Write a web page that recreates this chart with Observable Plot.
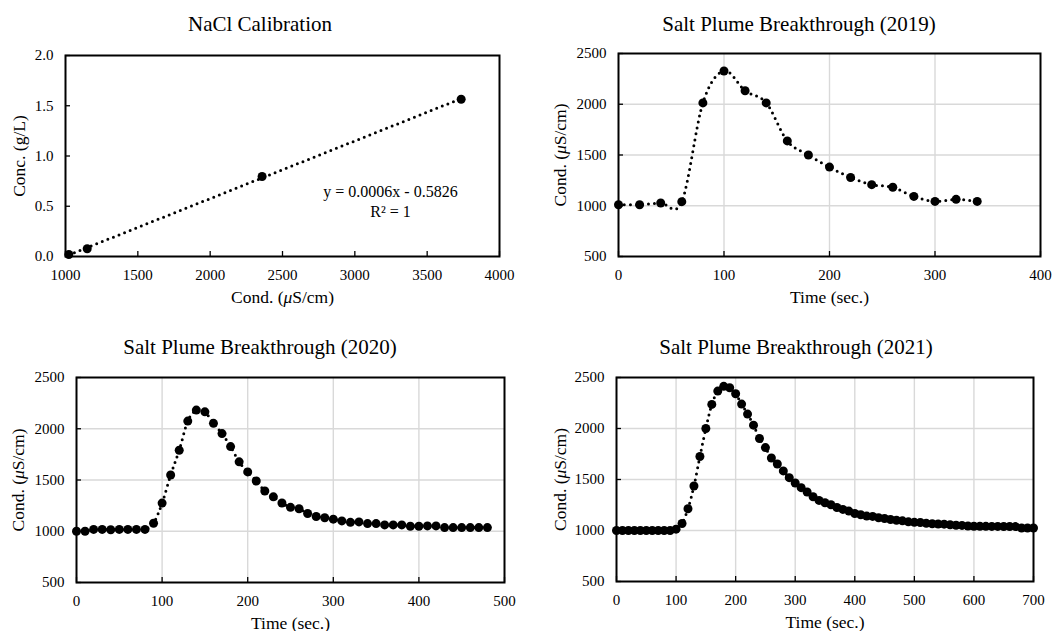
<!DOCTYPE html>
<html>
<head>
<meta charset="utf-8">
<script src="https://cdn.jsdelivr.net/npm/d3@7"></script>
<script src="https://cdn.jsdelivr.net/npm/@observablehq/plot@0.6"></script>
<style>
  body { margin: 0; background: #fff; font-family: "Liberation Serif", "Times New Roman", serif; }
  #wrap { position: relative; width: 1058px; height: 631px; overflow: hidden; background: #fff; }
  .cell { position: absolute; }
  .cell svg { overflow: visible; }
  .title { position: absolute; font-family: "Liberation Serif", "Times New Roman", serif; font-weight: normal; font-size: 21px; line-height: 1; transform: translateX(-50%); white-space: nowrap; color: #000; }
  [aria-label="x-axis label"], [aria-label="y-axis label"] { font-size: 17.5px; }
</style>
</head>
<body>
<div id="wrap"></div>
<script>
// ---------- data ----------
// NaCl calibration
const calCond = [1023, 1150, 2359, 3735];
const calConc = [0.02, 0.077, 0.796, 1.565];
const calEquation = "y = 0.0006x - 0.5826\nR² = 1";

// 2019 breakthrough
const t2019 = [0, 20, 40, 60, 80, 100, 120, 140, 160, 180, 200, 220, 240, 260, 280, 300, 320, 340];
const c2019 = [1010, 1010, 1027, 1040, 2013, 2328, 2133, 2013, 1639, 1500, 1381, 1278, 1208, 1182, 1092, 1043, 1063, 1043];

// 2020 breakthrough
const t2020 = [0, 10, 20, 30, 40, 50, 60, 70, 80, 90, 100, 110, 120, 130, 140, 150, 160, 170, 180, 190, 200,
  210, 220, 230, 240, 250, 260, 270, 280, 290, 300, 310, 320, 330, 340, 350, 360, 370, 380, 390, 400,
  410, 420, 430, 440, 450, 460, 470, 480];
const c2020 = [1000, 1000, 1018, 1018, 1015, 1018, 1018, 1018, 1018, 1078, 1275, 1549, 1790, 2075, 2182, 2165, 2053, 1953, 1826, 1677, 1579,
  1490, 1393, 1336, 1276, 1233, 1220, 1173, 1144, 1132, 1118, 1101, 1087, 1091, 1075, 1075, 1062, 1062, 1062, 1049, 1049,
  1052, 1052, 1036, 1036, 1036, 1036, 1036, 1036];

// 2021 breakthrough
const t2021 = [0, 10, 20, 30, 40, 50, 60, 70, 80, 90, 100, 110, 120, 130, 140, 150, 160, 170, 180, 190, 200,
  210, 220, 230, 240, 250, 260, 270, 280, 290, 300, 310, 320, 330, 340, 350, 360, 370, 380, 390, 400,
  410, 420, 430, 440, 450, 460, 470, 480, 490, 500, 510, 520, 530, 540, 550, 560, 570, 580, 590, 600,
  610, 620, 630, 640, 650, 660, 670, 680, 690, 700];
const c2021 = [1000, 1000, 1000, 1000, 1000, 1000, 1000, 1000, 1000, 1000, 1013, 1069, 1213, 1436, 1725, 2000, 2236, 2367, 2413, 2400, 2341,
  2239, 2141, 2033, 1902, 1813, 1711, 1652, 1584, 1518, 1466, 1420, 1377, 1331, 1295, 1272, 1252, 1226, 1207, 1190, 1167,
  1154, 1141, 1138, 1125, 1118, 1108, 1100, 1095, 1085, 1080, 1078, 1070, 1066, 1064, 1062, 1056, 1052, 1050, 1044, 1042,
  1042, 1041, 1040, 1040, 1039, 1039, 1038, 1025, 1024, 1024];

// tick values
const calXTicks = [1000, 1500, 2000, 2500, 3000, 3500, 4000];
const calYTicks = [0, 0.5, 1.0, 1.5, 2.0];
const condTicks = [500, 1000, 1500, 2000, 2500];
const x2019Ticks = [0, 100, 200, 300, 400];
const x2020Ticks = [0, 100, 200, 300, 400, 500];
const x2021Ticks = [0, 100, 200, 300, 400, 500, 600, 700];

// titles / labels
const titles = ["NaCl Calibration", "Salt Plume Breakthrough (2019)", "Salt Plume Breakthrough (2020)", "Salt Plume Breakthrough (2021)"];
const condLabel = "Cond. (μS/cm)";
const concLabel = "Conc. (g/L)";
const timeLabel = "Time (sec.)";

// ---------- helpers ----------
const zip = (xs, ys) => xs.map((x, i) => ({x, y: ys[i]}));
const wrap = document.getElementById("wrap");

function italicMu(svg) {
  const walker = document.createTreeWalker(svg, NodeFilter.SHOW_TEXT);
  const nodes = [];
  while (walker.nextNode()) if (walker.currentNode.nodeValue.includes("μ")) nodes.push(walker.currentNode);
  for (const n of nodes) {
    const [a, b] = n.nodeValue.split("μ");
    const ts = document.createElementNS("http://www.w3.org/2000/svg", "tspan");
    ts.setAttribute("font-style", "italic");
    ts.textContent = "μ";
    const p = n.parentNode;
    p.insertBefore(document.createTextNode(a), n);
    p.insertBefore(ts, n);
    p.insertBefore(document.createTextNode(b), n);
    p.removeChild(n);
  }
}

function panel(cfg) {
  const {left, top, width, height, mL, mR, mT, mB, xDomain, yDomain, xTicks, yTicks, yFormat, grid,
         xLabel, yLabel, yLabelOffset, marks, title, titleX, titleY} = cfg;
  const fw = width - mL - mR, fh = height - mT - mB;
  const plot = Plot.plot({
    width, height,
    marginLeft: mL, marginRight: mR, marginTop: mT, marginBottom: mB,
    style: {fontFamily: '"Liberation Serif", "Times New Roman", serif', fontSize: "15px", color: "#000", background: "none", overflow: "visible"},
    x: {domain: xDomain},
    y: {domain: yDomain},
    marks: [
      grid ? Plot.gridX(xTicks.slice(1, -1), {stroke: "#d9d9d9", strokeOpacity: 1, strokeWidth: 1.4}) : null,
      grid ? Plot.gridY(yTicks.slice(1, -1), {stroke: "#d9d9d9", strokeOpacity: 1, strokeWidth: 1.4}) : null,
      Plot.ruleX(xTicks, {stroke: "#000", strokeWidth: 1.3, insetTop: fh - 5}),
      Plot.ruleY(yTicks, {stroke: "#000", strokeWidth: 1.3, insetRight: fw - 5}),
      Plot.axisX(xTicks, {tickSize: 0, tickPadding: 13, tickFormat: d => String(d), label: xLabel, labelAnchor: "center", labelOffset: 46, labelArrow: "none"}),
      Plot.axisY(yTicks, {tickSize: 0, tickPadding: 12, tickFormat: yFormat, label: yLabel, labelAnchor: "center", labelOffset: yLabelOffset, labelArrow: "none"}),
      ...marks,
      Plot.frame({stroke: "#000", strokeWidth: 2})
    ]
  });
  italicMu(plot);
  const cell = document.createElement("div");
  cell.className = "cell";
  cell.style.left = left + "px";
  cell.style.top = top + "px";
  cell.appendChild(plot);
  wrap.appendChild(cell);
  const t = document.createElement("div");
  t.className = "title";
  t.textContent = title;
  t.style.left = titleX + "px";
  t.style.top = titleY + "px";
  wrap.appendChild(t);
}

const lineStyle = {stroke: "#000", strokeWidth: 3, strokeDasharray: "0 6", strokeLinecap: "round", curve: "cardinal"};
const dotR = 4.5;

// Panel A: calibration
const calData = zip(calCond, calConc);
panel({
  left: 0, top: 0, width: 529, height: 310, mL: 65, mR: 30, mT: 55, mB: 54,
  xDomain: [1000, 4000], yDomain: [0, 2], xTicks: calXTicks, yTicks: calYTicks, yFormat: d3.format(".1f"), grid: false,
  xLabel: condLabel, yLabel: concLabel, yLabelOffset: 53,
  title: titles[0], titleX: 260, titleY: 14,
  marks: [
    Plot.linearRegressionY(calData, {x: "x", y: "y", ci: 0, stroke: "#000", strokeWidth: 3, strokeDasharray: "0 6", strokeLinecap: "round"}),
    Plot.dot(calData, {x: "x", y: "y", r: dotR, fill: "#000"}),
    Plot.text([calEquation], {frameAnchor: "bottom-right", dx: -109, dy: -40, fontSize: 16, textAnchor: "middle", lineHeight: 1.2})
  ]
});

// Panel B: 2019
const d2019 = zip(t2019, c2019);
panel({
  left: 529, top: 0, width: 529, height: 310, mL: 89, mR: 18, mT: 53, mB: 54,
  xDomain: [0, 400], yDomain: [500, 2500], xTicks: x2019Ticks, yTicks: condTicks, yFormat: d => String(d), grid: true,
  xLabel: timeLabel, yLabel: condLabel, yLabelOffset: 65,
  title: titles[1], titleX: 799, titleY: 14,
  marks: [
    Plot.line(d2019, {x: "x", y: "y", ...lineStyle}),
    Plot.dot(d2019, {x: "x", y: "y", r: dotR, fill: "#000"})
  ]
});

// Panel C: 2020
const d2020 = zip(t2020, c2020);
panel({
  left: 0, top: 300, width: 529, height: 331, mL: 76, mR: 25, mT: 77, mB: 49,
  xDomain: [0, 500], yDomain: [500, 2500], xTicks: x2020Ticks, yTicks: condTicks, yFormat: d => String(d), grid: true,
  xLabel: timeLabel, yLabel: condLabel, yLabelOffset: 65,
  title: titles[2], titleX: 260, titleY: 337,
  marks: [
    Plot.line(d2020, {x: "x", y: "y", ...lineStyle}),
    Plot.dot(d2020, {x: "x", y: "y", r: dotR, fill: "#000"})
  ]
});

// Panel D: 2021
const d2021 = zip(t2021, c2021);
panel({
  left: 529, top: 300, width: 529, height: 331, mL: 87, mR: 25, mT: 77, mB: 50,
  xDomain: [0, 700], yDomain: [500, 2500], xTicks: x2021Ticks, yTicks: condTicks, yFormat: d => String(d), grid: true,
  xLabel: timeLabel, yLabel: condLabel, yLabelOffset: 63,
  title: titles[3], titleX: 796, titleY: 337,
  marks: [
    Plot.line(d2021, {x: "x", y: "y", ...lineStyle}),
    Plot.dot(d2021, {x: "x", y: "y", r: dotR, fill: "#000"})
  ]
});
</script>
</body>
</html>
